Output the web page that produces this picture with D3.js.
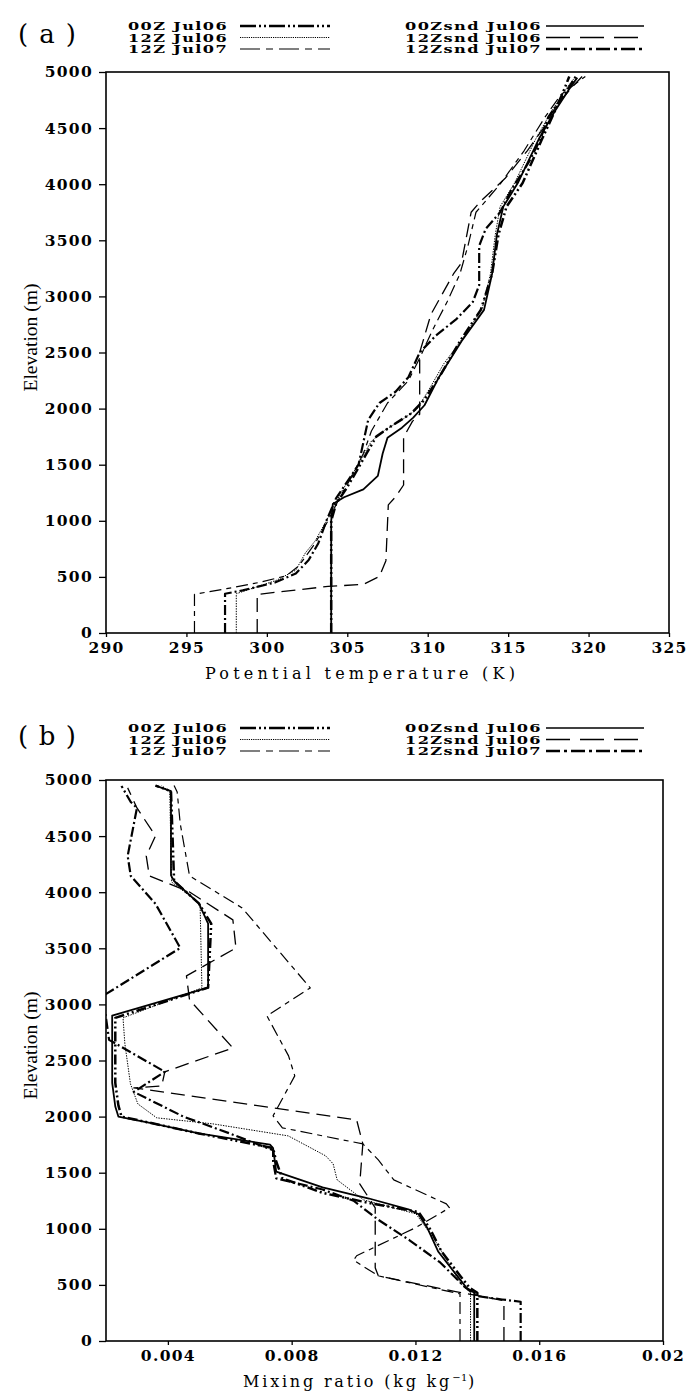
<!DOCTYPE html>
<html>
<head>
<meta charset="utf-8">
<script src="https://cdn.jsdelivr.net/npm/d3@7"></script>
<style>
  body { margin: 0; background: #fff; }
  .tick-label { font-family: "DejaVu Serif", serif; font-weight: bold; font-size: 15.5px; letter-spacing: 1.3px; }
  .legend-label { font-family: "DejaVu Serif", serif; font-weight: bold; font-size: 11.5px; letter-spacing: 1px; }
  .x-title { font-family: "DejaVu Serif", serif; font-size: 16px; }
  .y-title { font-family: "Liberation Serif", serif; font-size: 19px; }
  .panel-tag { font-family: "DejaVu Serif", serif; font-size: 26px; }
</style>
</head>
<body>
<svg id="fig" width="690" height="1393"></svg>
<script>
// ---- series labels (legend order: left column, then right column)
const seriesNames = ["00Z Jul06", "12Z Jul06", "12Z Jul07", "00Zsnd Jul06", "12Zsnd Jul06", "12Zsnd Jul07"];

// ---- axis ticks
const elevTicks = [0, 500, 1000, 1500, 2000, 2500, 3000, 3500, 4000, 4500, 5000];
const thetaTicks = [290, 295, 300, 305, 310, 315, 320, 325];
const mixTicks = [0.004, 0.008, 0.012, 0.016, 0.02];
const mixTickLabels = ["0.004", "0.008", "0.012", "0.016", "0.02"];

// ---- (a) potential temperature profiles: [theta (K), elevation (m)]
const theta00ZJul06 = [[304.0,0],[304.0,600],[304.0,1000],[304.3,1150],[305.0,1300],[305.6,1450],[306.2,1600],[306.8,1750],[307.8,1850],[309.0,1960],[309.8,2080],[310.8,2300],[312.0,2600],[313.3,2880],[314.0,3200],[314.4,3550],[314.9,3800],[315.9,4010],[317.1,4400],[317.9,4650],[318.5,4850],[318.8,4960]];
const theta12ZJul06 = [[298.1,0],[298.1,350],[300.6,470],[301.8,560],[302.4,715],[303.0,820],[303.7,1000],[304.6,1250],[305.5,1460],[306.5,1710],[307.4,1815],[308.4,1900],[309.3,1990],[310.0,2150],[311.0,2400],[312.3,2650],[313.4,2900],[313.9,3200],[314.2,3550],[314.5,3800],[315.4,4010],[316.7,4400],[317.7,4650],[318.7,4870],[319.2,4960]];
const theta12ZJul07 = [[295.5,0],[295.5,345],[297.5,395],[299.5,450],[301.2,510],[302.0,600],[303.0,800],[303.8,1000],[304.5,1200],[305.3,1400],[306.0,1600],[306.5,1800],[307.5,2050],[308.8,2250],[309.5,2450],[310.3,2700],[311.2,2950],[312.0,3200],[312.5,3450],[313.0,3750],[314.5,4000],[316.0,4300],[317.3,4600],[318.3,4800],[319.8,4960]];
const theta00ZsndJul06 = [[304.0,0],[304.0,500],[304.0,1000],[304.1,1150],[304.8,1210],[306.0,1280],[306.9,1400],[307.2,1600],[307.5,1740],[308.4,1830],[309.1,1920],[309.8,2030],[310.7,2280],[312.1,2600],[313.5,2880],[314.0,3200],[314.3,3550],[314.7,3800],[315.6,4010],[316.9,4400],[317.9,4650],[318.9,4870],[319.3,4950]];
const theta12ZsndJul06 = [[299.4,0],[299.4,344],[303.8,415],[306.0,433],[307.0,504],[307.4,645],[307.55,1142],[308.0,1213],[308.5,1319],[308.5,1745],[309.05,1886],[309.5,1950],[309.5,2100],[309.5,2500],[310.2,2840],[311.6,3200],[312.1,3300],[312.7,3750],[313.3,3850],[314.8,4050],[316.2,4300],[317.2,4500],[318.0,4700],[319.0,4870],[319.6,4960]];
const theta12ZsndJul07 = [[297.4,0],[297.4,350],[298.5,380],[300.5,450],[301.8,530],[302.6,650],[303.2,800],[303.7,1000],[304.3,1200],[305.0,1350],[305.7,1500],[306.0,1700],[306.3,1900],[307.0,2050],[308.0,2150],[308.8,2280],[309.5,2500],[310.5,2650],[311.8,2800],[312.8,2950],[313.2,3100],[313.2,3450],[313.6,3600],[314.5,3750],[315.2,3950],[316.3,4200],[317.0,4400],[317.5,4600],[318.5,4800],[319.2,4960]];

// ---- (b) mixing ratio profiles: [mixing ratio (kg/kg), elevation (m)]
const mix00ZJul06 = [[0.0140,0],[0.0140,430],[0.01375,474],[0.01345,580],[0.01285,795],[0.01245,1010],[0.0121,1150],[0.0105,1230],[0.0090,1320],[0.0077,1450],[0.0075,1600],[0.0074,1720],[0.0050,1850],[0.0035,1940],[0.0025,2000],[0.0024,2100],[0.0023,2300],[0.0023,2880],[0.0053,3150],[0.0054,3720],[0.0050,3900],[0.0042,4100],[0.0041,4900],[0.0036,4950]];
const mix12ZJul06 = [[0.01378,0],[0.01378,430],[0.01347,510],[0.01262,902],[0.01202,1133],[0.01032,1258],[0.00947,1436],[0.00934,1579],[0.0091,1650],[0.00789,1828],[0.00546,1935],[0.00364,1989],[0.00303,2113],[0.00279,2292],[0.00261,2648],[0.00255,2880],[0.0051,3147],[0.00504,3896],[0.00412,4091],[0.00406,4893],[0.0038,4950]];
const mix12ZJul07 = [[0.01344,0],[0.01344,420],[0.0108,581],[0.0100,720],[0.0101,760],[0.0120,1009],[0.0131,1187],[0.0130,1222],[0.0113,1436],[0.0108,1614],[0.0103,1757],[0.0077,1900],[0.0074,2007],[0.0081,2363],[0.0079,2541],[0.0072,2898],[0.0086,3147],[0.0064,3860],[0.0047,4145],[0.0044,4608],[0.0043,4893],[0.0042,4950]];
const mix00ZsndJul06 = [[0.0139,0],[0.0139,430],[0.01365,474],[0.01335,580],[0.01274,795],[0.01238,1010],[0.0121,1130],[0.0118,1170],[0.0105,1270],[0.0090,1370],[0.0075,1510],[0.0074,1720],[0.0073,1750],[0.0050,1850],[0.0035,1940],[0.0024,2000],[0.0023,2090],[0.0022,2300],[0.0022,2900],[0.0053,3150],[0.0053,3720],[0.0050,3900],[0.0042,4100],[0.0041,4150],[0.0041,4900],[0.0036,4950]];
const mix12ZsndJul06 = [[0.01486,0],[0.01486,360],[0.0133,440],[0.0108,581],[0.0107,652],[0.0107,900],[0.0107,1187],[0.0102,1401],[0.0103,1757],[0.0101,1970],[0.0029,2256],[0.0038,2274],[0.0039,2399],[0.0061,2612],[0.0047,3040],[0.0046,3254],[0.0062,3503],[0.0061,3753],[0.0047,4002],[0.0034,4145],[0.0033,4323],[0.0036,4501],[0.0030,4751],[0.0027,4930]];
const mix12ZsndJul07 = [[0.0154,0],[0.0154,350],[0.0148,370],[0.0140,400],[0.0136,480],[0.0128,700],[0.0118,900],[0.0108,1080],[0.0100,1250],[0.0090,1350],[0.0075,1450],[0.0074,1600],[0.0074,1700],[0.0060,1850],[0.0045,2000],[0.0029,2220],[0.0039,2400],[0.0021,2684],[0.0019,3075],[0.0044,3503],[0.0036,3896],[0.0028,4145],[0.0027,4323],[0.0030,4751],[0.0028,4804],[0.0025,4947]];

// ---- line styles, one per series (same order as seriesNames)
const styles = [
  { width: 2.5, dash: "10,3,2,3,2,3", key: "16,3,2,3,2,3", keyWidth: 2.6 },  // model 00Z Jul06
  { width: 1.0, dash: "1.4,1.2",      key: "1.2,1",        keyWidth: 1.2 },  // model 12Z Jul06
  { width: 1.2, dash: "12,5,5,5",     key: "20,6,7,6",     keyWidth: 1.2 },  // model 12Z Jul07
  { width: 1.8, dash: null,           key: null,           keyWidth: 1.3 },  // sounding 00Z Jul06
  { width: 1.3, dash: "14,7",         key: "24,10",        keyWidth: 1.5 },  // sounding 12Z Jul06
  { width: 2.2, dash: "10,3,2,3",     key: "14,4,3,4",     keyWidth: 2.4 }   // sounding 12Z Jul07
];

const svg = d3.select("#fig");

function drawPanel(cfg) {
  const g = svg.append("g");
  const x = d3.scaleLinear().domain(cfg.xDomain).range([cfg.left, cfg.right]);
  const y = d3.scaleLinear().domain([0, 5000]).range([cfg.bottom, cfg.top]);

  // panel tag
  g.append("text").attr("class", "panel-tag")
    .attr("x", 18).attr("y", cfg.tagY)
    .attr("dominant-baseline", "middle")
    .attr("textLength", 58).attr("lengthAdjust", "spacing")
    .text(cfg.tag);

  // legend: three rows in two columns
  seriesNames.forEach((name, i) => {
    const col = Math.floor(i / 3), row = i % 3;
    const ry = cfg.legendY[row];
    const tx = col === 0 ? 128 : 405;
    const tw = col === 0 ? 100 : 137;
    const l0 = col === 0 ? 240 : 546, l1 = col === 0 ? 330 : 644;
    g.append("text").attr("class", "legend-label")
      .attr("x", tx).attr("y", ry + 4)
      .attr("textLength", tw).attr("lengthAdjust", "spacingAndGlyphs").text(name);
    g.append("line").attr("x1", l0).attr("x2", l1)
      .attr("y1", ry).attr("y2", ry)
      .attr("stroke", "#000").attr("stroke-width", styles[i].keyWidth)
      .attr("stroke-dasharray", styles[i].key);
  });

  // clip for profiles
  const clipId = "clip-" + cfg.tag.replace(/\W/g, "");
  svg.append("clipPath").attr("id", clipId).append("rect")
    .attr("x", cfg.left).attr("y", cfg.top)
    .attr("width", cfg.right - cfg.left).attr("height", cfg.bottom - cfg.top);

  const line = d3.line().x(d => x(d[0])).y(d => y(d[1]));
  const lines = g.append("g").attr("clip-path", `url(#${clipId})`);
  cfg.series.forEach((data, i) => {
    lines.append("path").datum(data)
      .attr("d", line).attr("fill", "none")
      .attr("stroke", "#000").attr("stroke-width", styles[i].width)
      .attr("stroke-linejoin", "round")
      .attr("stroke-dasharray", styles[i].dash);
  });

  // frame
  g.append("rect").attr("x", cfg.left).attr("y", cfg.top)
    .attr("width", cfg.right - cfg.left).attr("height", cfg.bottom - cfg.top)
    .attr("fill", "none").attr("stroke", "#000").attr("stroke-width", 1.6);

  // y axis
  const yAxis = g.append("g").attr("transform", `translate(${cfg.left},0)`)
    .call(d3.axisLeft(y).tickValues(elevTicks).tickFormat(d3.format("d")).tickSize(7).tickPadding(6));
  yAxis.select(".domain").remove();
  yAxis.selectAll("line").attr("stroke-width", 1.3);
  yAxis.selectAll("text").attr("class", "tick-label").attr("fill", "#000");
  yAxis.attr("font-family", null).attr("font-size", null);

  // x axis
  const xAxis = g.append("g").attr("transform", `translate(0,${cfg.bottom})`)
    .call(d3.axisBottom(x).tickValues(cfg.xTicks).tickFormat((d, i) => cfg.xTickLabels[i]).tickSize(4).tickPadding(5));
  xAxis.select(".domain").remove();
  xAxis.selectAll("line").attr("stroke-width", 1.3);
  xAxis.selectAll("text").attr("class", "tick-label").attr("fill", "#000");
  xAxis.attr("font-family", null).attr("font-size", null);

  // axis titles
  const xt = g.append("text").attr("class", "x-title")
    .attr("x", cfg.xTitleX).attr("y", cfg.bottom + 46)
    .attr("text-anchor", "middle");
  cfg.xTitle(xt);
  g.append("text").attr("class", "y-title")
    .attr("transform", `translate(${cfg.left - 73},${(cfg.top + cfg.bottom) / 2 - 15}) rotate(-90)`)
    .attr("text-anchor", "middle").attr("dominant-baseline", "middle")
    .attr("textLength", 108).attr("lengthAdjust", "spacingAndGlyphs")
    .text("Elevation (m)");
}

drawPanel({
  tag: "(a)", tagY: 36, legendY: [26, 37.5, 49],
  left: 106, right: 669, top: 72, bottom: 633,
  xDomain: [290, 325], xTicks: thetaTicks, xTickLabels: thetaTicks.map(String),
  series: [theta00ZJul06, theta12ZJul06, theta12ZJul07, theta00ZsndJul06, theta12ZsndJul06, theta12ZsndJul07],
  xTitleX: 360,
  xTitle: t => t.attr("textLength", 310).attr("lengthAdjust", "spacing").text("Potential temperature (K)")
});

drawPanel({
  tag: "(b)", tagY: 738, legendY: [728, 739.5, 751],
  left: 106, right: 663, top: 780, bottom: 1341,
  xDomain: [0.002, 0.02], xTicks: mixTicks, xTickLabels: mixTickLabels,
  series: [mix00ZJul06, mix12ZJul06, mix12ZJul07, mix00ZsndJul06, mix12ZsndJul06, mix12ZsndJul07],
  xTitleX: 360,
  xTitle: t => {
    t.attr("letter-spacing", "2.8px");
    t.append("tspan").text("Mixing ratio (kg kg");
    t.append("tspan").attr("dy", -6).attr("font-size", "10px").attr("letter-spacing", "0.5px").text("−1");
    t.append("tspan").attr("dy", 6).text(")");
  }
});
</script>
</body>
</html>
